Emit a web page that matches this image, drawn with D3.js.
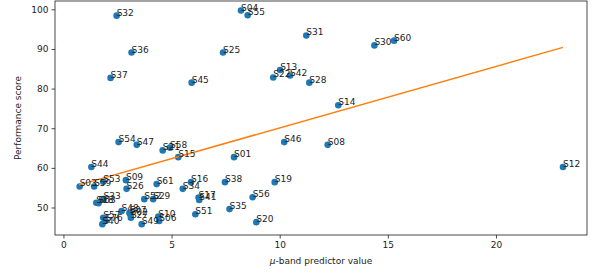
<!DOCTYPE html>
<html><head><meta charset="utf-8">
<script src="https://cdn.jsdelivr.net/npm/d3@7"></script>
<style>body{margin:0;background:#fff}svg{display:block}text{font-family:"DejaVu Sans",sans-serif}</style>
</head><body>
<script>
const labels = ["S32","S04","S55","S36","S25","S37","S45","S13","S22","S42","S31","S30","S60","S28","S14",
"S54","S47","S46","S08","S21","S58","S15","S01","S12","S44","S03","S59","S53","S09","S26","S61","S16","S34",
"S38","S19","S56","S17","S41","S52","S29","S18","S63","S33","S48","S07","S02","S27","S57","S76","S40","S49",
"S10","S06","S51","S35","S20"];
const xVals = [2.46,8.21,8.52,3.15,7.38,2.18,5.93,10.02,9.70,10.48,11.23,14.38,15.29,11.37,12.71,
2.55,3.39,10.21,12.22,4.59,4.93,5.31,7.89,23.10,1.29,0.75,1.42,1.84,2.89,2.92,4.31,5.90,5.52,
7.47,9.77,8.75,6.25,6.28,3.74,4.15,1.52,1.62,1.85,2.69,3.05,3.10,3.12,1.84,1.95,1.80,3.62,
4.39,4.43,6.10,7.68,8.92];
const yVals = [98.4,99.7,98.5,89.1,89.1,82.7,81.5,84.7,82.8,83.3,93.4,90.9,92.1,81.5,75.8,
66.5,65.8,66.5,65.8,64.4,65.1,62.7,62.7,60.2,60.2,55.3,55.3,56.5,56.9,54.7,55.9,56.4,54.7,
56.4,56.4,52.6,52.5,51.9,52.1,52.1,51.2,51.1,52.1,49.1,48.6,48.2,47.4,47.4,46.6,45.8,45.8,
47.7,46.6,48.3,49.6,46.3];
const fitX = [0.73, 23.10];
const fitY = [55.7, 90.4];
const xTicks = [0,5,10,15,20];
const yTicks = [50,60,70,80,90,100];

const W=597,H=274, L=55,R=587,T=1,B=235;
const svg=d3.select("body").append("svg").attr("width",W).attr("height",H);
const x=d3.scaleLinear().domain([-0.39,24.21]).range([L,R]);
const y=d3.scaleLinear().domain([43.06,102.1]).range([B,T]);

const fs=9, col="#1c1c1c";
svg.append("g").attr("transform",`translate(0,${B})`)
 .call(d3.axisBottom(x).tickValues(xTicks).tickSize(3.5).tickPadding(3).tickFormat(d3.format("d")))
 .call(g=>{g.select(".domain").remove();g.selectAll("text").attr("font-size",fs).attr("fill",col).attr("font-family","DejaVu Sans");g.selectAll("line").attr("stroke",col).attr("stroke-width",0.8);});
svg.append("g").attr("transform",`translate(${L},0)`)
 .call(d3.axisLeft(y).tickValues(yTicks).tickSize(3.5).tickPadding(3).tickFormat(d3.format("d")))
 .call(g=>{g.select(".domain").remove();g.selectAll("text").attr("font-size",fs).attr("fill",col).attr("font-family","DejaVu Sans");g.selectAll("line").attr("stroke",col).attr("stroke-width",0.8);});

const pts = labels.map((l,i)=>({l,x:xVals[i],y:yVals[i]}));
svg.append("g").selectAll("circle").data(pts).join("circle")
 .attr("cx",d=>x(d.x)).attr("cy",d=>y(d.y)).attr("r",3.3).attr("fill","#1f77b4");

svg.append("path").datum(fitX.map((v,i)=>[v,fitY[i]]))
 .attr("d",d3.line().x(d=>x(d[0])).y(d=>y(d[1]))).attr("stroke","#ff7f0e").attr("stroke-width",1.5).attr("fill","none");

svg.append("g").selectAll("text").data(pts).join("text")
 .attr("x",d=>x(d.x)).attr("y",d=>y(d.y)).attr("font-size",fs).attr("fill",col).text(d=>d.l);

svg.append("rect").attr("x",L).attr("y",T).attr("width",R-L).attr("height",B-T)
 .attr("fill","none").attr("stroke",col).attr("stroke-width",0.8);

svg.append("text").attr("x",(L+R)/2).attr("y",264).attr("text-anchor","middle").attr("font-size",fs).attr("fill",col)
 .html('<tspan font-style="italic">μ</tspan>-band predictor value');
svg.append("text").attr("transform",`translate(21,${(T+B)/2}) rotate(-90)`).attr("text-anchor","middle").attr("font-size",fs).attr("fill",col)
 .text("Performance score");
</script>
</body></html>
